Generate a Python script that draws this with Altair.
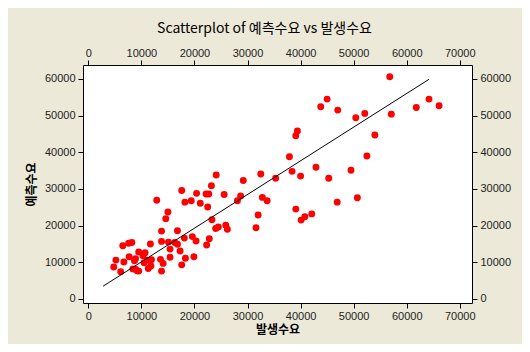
import altair as alt
import pandas as pd

# 발생수요 (x) and 예측수요 (y)
actual = [
    56800, 64200, 66100, 61800, 57100, 52100, 50400, 54000, 52500, 49500, 45300,
    42900, 40000, 38400, 37900, 39100, 39400, 43800, 45000, 47000, 35300, 32500,
    32800, 33700, 32000, 31600, 39100, 40100, 40800, 42100, 46900, 50700,
    24100, 23200, 29200, 17600, 20400, 22200, 22700, 25600, 28700, 28100, 18200,
    19400, 21100, 22500, 23300, 24000, 24500, 25900, 26200,
    16800, 18100, 19600, 20300, 22800, 22300, 16300, 16800, 17300, 18300, 19900,
    15400, 17600,
    12900, 15000, 14600, 13800, 11700, 13800, 15100,
    8200, 7600, 6500, 9500, 10700, 10300, 5200, 4800, 6700, 7700, 8700, 8900,
    10500, 11100, 11900, 11800, 11300, 13600, 15400, 14100, 13800, 8400, 8900,
    9200, 9500, 6100,
]
forecast = [
    60600, 54500, 52700, 52200, 50400, 50600, 49400, 44700, 39000, 35100, 32900,
    35900, 33500, 34800, 38800, 44500, 45800, 52400, 54500, 51500, 32900, 34100,
    27700, 26800, 22900, 19400, 24500, 21500, 22400, 23200, 26400, 27600,
    33800, 30900, 32300, 29600, 28800, 28600, 28600, 28500, 28100, 26800, 26400,
    26800, 26100, 25100, 21600, 19200, 19600, 20100, 19000,
    18600, 16600, 17000, 15800, 16400, 14700, 15400, 14900, 13100, 11100, 11500,
    13600, 9300,
    26900, 23700, 21900, 18500, 15000, 15700, 15500,
    15400, 15200, 14500, 12800, 12600, 11800, 10600, 8700, 10100, 11500, 10400, 11000,
    9900, 10600, 10700, 9000, 8300, 10800, 11400, 9700, 7600, 8200, 8100,
    7700, 7600, 7400,
]

# fitted line end points
line_x = [2800, 64200]
line_y = [3500, 59900]

tick_x = [0, 10000, 20000, 30000, 40000, 50000, 60000, 70000]
tick_y = [0, 10000, 20000, 30000, 40000, 50000, 60000]

pts = pd.DataFrame({"발생수요": actual, "예측수요": forecast})
fit = pd.DataFrame({"발생수요": line_x, "예측수요": line_y})

xscale = alt.Scale(domain=[-1000, 72300], nice=False, zero=False)
yscale = alt.Scale(domain=[-1100, 63800], nice=False, zero=False)

lab = dict(labelFont="Liberation Sans", labelFontSize=11, labelColor="#222222",
           tickColor="#000000", tickSize=5, domain=False, grid=False, format="d")

points = alt.Chart(pts).mark_point(filled=True, color="#FF0000", size=48, opacity=1).encode(
    x=alt.X("발생수요:Q", scale=xscale,
            axis=alt.Axis(orient="bottom", values=tick_x, labelPadding=2, title="발생수요",
                          titleFont="Noto Sans CJK KR", titleFontSize=12, titleFontWeight="bold",
                          titleColor="#000000", titlePadding=3, **lab)),
    y=alt.Y("예측수요:Q", scale=yscale,
            axis=alt.Axis(orient="left", values=tick_y, labelPadding=3, title="예측수요",
                          titleFont="Noto Sans CJK KR", titleFontSize=12, titleFontWeight="bold",
                          titleColor="#000000", titlePadding=6, **lab)),
)

line = alt.Chart(fit).mark_line(color="#000000", strokeWidth=1).encode(
    x=alt.X("발생수요:Q", scale=xscale,
            axis=alt.Axis(orient="top", values=tick_x, labelPadding=2, title=None, **lab)),
    y=alt.Y("예측수요:Q", scale=yscale,
            axis=alt.Axis(orient="right", values=tick_y, labelPadding=3, title=None, **lab)),
)

chart = alt.layer(points, line).resolve_axis(x="independent", y="independent").properties(
    width=389,
    height=238,
    autosize=alt.AutoSizeParams(type="none"),
    padding={"left": 75, "top": 57, "right": 50, "bottom": 41},
    background="#ECE9D8",
    title=alt.TitleParams("Scatterplot of 예측수요 vs 발생수요", font="Noto Sans CJK KR",
                          fontSize=14, fontWeight="normal", color="#000000",
                          anchor="middle", offset=11, dx=-13),
).configure_view(fill="#FFFFFF", stroke="#000000", strokeWidth=1)

chart.save("out.html", embed_options={"renderer": "svg", "actions": False})
